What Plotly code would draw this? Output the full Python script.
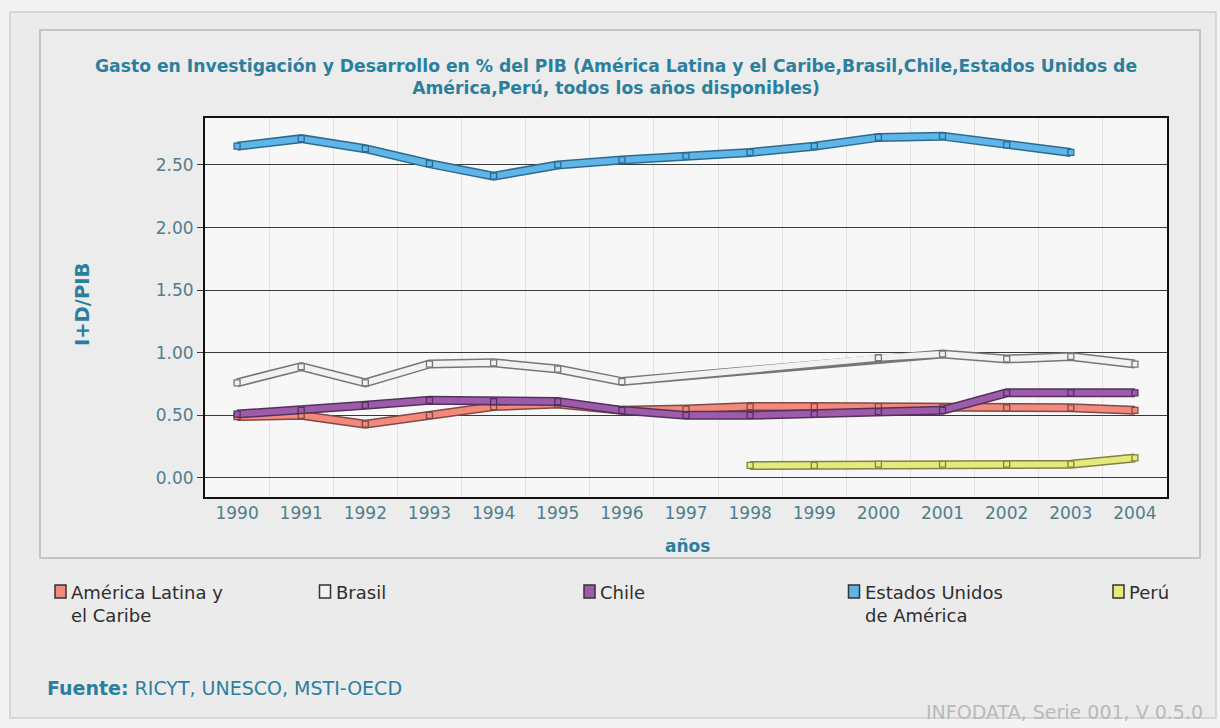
import plotly.graph_objects as go

# ---- data -------------------------------------------------------------
years = list(range(1990, 2005))

alc = [0.49, 0.50, 0.43, 0.50, 0.57, 0.59, 0.54, 0.55, 0.57, 0.57, 0.57, 0.56, 0.56, 0.56, 0.54]
brasil = [0.76, 0.89, 0.76, 0.91, 0.92, 0.87, 0.77, None, None, None, 0.96, 0.99, 0.95, 0.97, 0.91]
chile = [0.51, 0.54, 0.58, 0.62, 0.61, 0.61, 0.54, 0.50, 0.50, 0.51, 0.53, 0.54, 0.68, 0.68, 0.68]
eeuu = [2.65, 2.71, 2.63, 2.51, 2.41, 2.50, 2.54, 2.57, 2.60, 2.65, 2.72, 2.73, 2.66, 2.60, None]
peru = [None, None, None, None, None, None, None, None, 0.10, 0.10, 0.11, 0.11, 0.11, 0.11, 0.16]

series_names = ["América Latina y el Caribe", "Brasil", "Chile", "Estados Unidos de América", "Perú"]
legend_labels = ["América Latina y<br>el Caribe", "Brasil", "Chile", "Estados Unidos<br>de América", "Perú"]
series_values = [alc, brasil, chile, eeuu, peru]

y_ticks = [0.0, 0.5, 1.0, 1.5, 2.0, 2.5]
y_tick_text = ["0.00", "0.50", "1.00", "1.50", "2.00", "2.50"]

# ---- styles -----------------------------------------------------------
fill_colors = ["#f2897c", "#f3f1f3", "#9d5ca9", "#5db5e8", "#e6ea7a"]
edge_colors = ["#7e4a45", "#767676", "#55305e", "#2e6a8e", "#80804a"]

TEAL = "#2b7f9e"
TICK = "#4f7f8c"
FONT = "DejaVu Sans"

W, H = 1220, 728
PL, PR, PT, PB = 205, 1167, 118, 497  # plot area in pixels


def px(x):
    return (x - PL) / (PR - PL)


def py(y):
    return (PB - y) / (PB - PT)


fig = go.Figure()

for name, vals, fc, ec in zip(series_names, series_values, fill_colors, edge_colors):
    # dark outline band under the coloured band
    fig.add_trace(go.Scatter(
        x=years, y=vals, mode="lines", connectgaps=True,
        line=dict(color=ec, width=9), hoverinfo="skip", showlegend=False,
    ))
    fig.add_trace(go.Scatter(
        x=years, y=vals, mode="lines+markers", connectgaps=True, name=name,
        line=dict(color=fc, width=6),
        marker=dict(symbol="square", size=6, color=fc, line=dict(color=ec, width=1.3)),
        showlegend=False,
    ))

shapes = [
    # outer frame
    dict(type="rect", xref="paper", yref="paper", x0=px(10), x1=px(1216), y0=py(718), y1=py(12),
         line=dict(color="#cfcfcf", width=1.5), fillcolor="#ebebeb", layer="below"),
    # chart panel
    dict(type="rect", xref="paper", yref="paper", x0=px(40), x1=px(1200), y0=py(558), y1=py(30),
         line=dict(color="#c4c4c4", width=2), fillcolor="#ececec", layer="below"),
    # plotting area background
    dict(type="rect", xref="paper", yref="paper", x0=0, x1=1, y0=0, y1=1,
         line=dict(width=0), fillcolor="#f7f7f7", layer="below"),
]

annotations = [
    dict(text="Gasto en Investigación y Desarrollo en % del PIB (América Latina y el Caribe,Brasil,Chile,Estados Unidos de<br>América,Perú, todos los años disponibles)",
         xref="paper", yref="paper", x=px(616), y=py(77), xanchor="center", yanchor="middle",
         showarrow=False, font=dict(family=FONT, size=17.2, color=TEAL, weight="bold"), align="center"),
    dict(text="años", xref="paper", yref="paper", x=px(687), y=py(546), xanchor="center", yanchor="middle",
         showarrow=False, font=dict(family=FONT, size=17, color=TEAL, weight="bold")),
    dict(text="I+D/PIB", xref="paper", yref="paper", x=px(82), y=py(305), xanchor="center", yanchor="middle",
         showarrow=False, textangle=-90, font=dict(family=FONT, size=19.5, color=TEAL, weight="bold")),
    dict(text="<b>Fuente:</b> RICYT, UNESCO, MSTI-OECD", xref="paper", yref="paper",
         x=px(45), y=py(688), xanchor="left", yanchor="middle", showarrow=False,
         font=dict(family=FONT, size=19, color=TEAL)),
    dict(text="INFODATA, Serie 001, V 0.5.0", xref="paper", yref="paper",
         x=px(1205), y=py(712), xanchor="right", yanchor="middle", showarrow=False,
         font=dict(family=FONT, size=19, color="#b9b9b9")),
]

# legend built from series names and colours
for i, (lab, fc, ec) in enumerate(zip(legend_labels, fill_colors, edge_colors)):
    x0 = 55 + i * 264.5
    shapes.append(dict(type="rect", xref="paper", yref="paper",
                       x0=px(x0), x1=px(x0 + 11), y0=py(598), y1=py(585),
                       line=dict(color="#333333", width=1.5), fillcolor=fc))
    annotations.append(dict(text=lab, xref="paper", yref="paper", x=px(x0 + 14), y=py(580),
                            xanchor="left", yanchor="top", align="left", showarrow=False,
                            font=dict(family=FONT, size=18, color="#2e2e2e")))

fig.update_layout(
    width=W, height=H,
    margin=dict(l=PL, r=W - PR, t=PT, b=H - PB),
    paper_bgcolor="#f3f3f3",
    plot_bgcolor="#f7f7f7",
    font=dict(family=FONT),
    shapes=shapes,
    annotations=annotations,
    showlegend=False,
    xaxis=dict(
        range=[1989.5, 2004.5], tickvals=years, ticktext=[str(y) for y in years],
        showgrid=False, zeroline=False,
        showline=True, mirror=True, linecolor="#111111", linewidth=2,
        ticks="", tickfont=dict(family=FONT, size=17, color=TICK),
        minor=dict(tick0=1989.5, dtick=1, showgrid=True, gridcolor="#e2e2e2", gridwidth=1),
    ),
    yaxis=dict(
        range=[-0.152, 2.875], tickvals=y_ticks, ticktext=y_tick_text,
        showgrid=True, gridcolor="#3a3a3a", gridwidth=1, zeroline=False,
        showline=True, mirror=True, linecolor="#111111", linewidth=2,
        ticks="outside", ticklen=6, tickcolor="#3a3a3a",
        tickfont=dict(family=FONT, size=17, color=TICK),
    ),
)

fig.write_html("out.html")
